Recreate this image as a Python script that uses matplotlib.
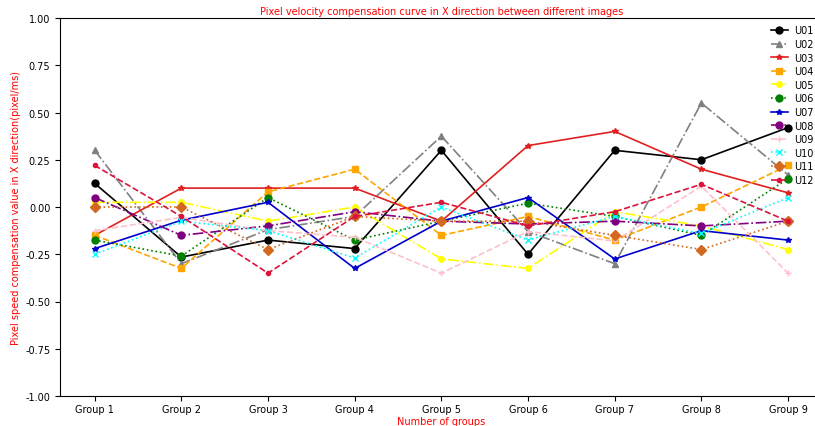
import matplotlib
matplotlib.use("Agg")
import matplotlib.pyplot as plt

groups = ["Group 1", "Group 2", "Group 3", "Group 4", "Group 5",
          "Group 6", "Group 7", "Group 8", "Group 9"]

U01 = [0.125, -0.265, -0.175, -0.22, 0.30, -0.25, 0.30, 0.25, 0.42]
U02 = [0.30, -0.30, -0.12, -0.05, 0.375, -0.13, -0.30, 0.55, 0.17]
U03 = [-0.15, 0.10, 0.10, 0.10, -0.075, 0.325, 0.40, 0.20, 0.075]
U04 = [-0.15, -0.325, 0.08, 0.20, -0.15, -0.05, -0.175, 0.0, 0.22]
U05 = [0.025, 0.025, -0.075, 0.0, -0.275, -0.325, -0.025, -0.10, -0.225]
U06 = [-0.175, -0.26, 0.05, -0.175, -0.075, 0.02, -0.05, -0.15, 0.15]
U07 = [-0.22, -0.07, 0.025, -0.325, -0.075, 0.05, -0.275, -0.125, -0.175]
U08 = [0.05, -0.15, -0.10, -0.025, -0.075, -0.09, -0.075, -0.10, -0.075]
U09 = [-0.125, -0.055, -0.125, -0.16, -0.35, -0.13, -0.18, 0.11, -0.35]
U10 = [-0.25, -0.075, -0.125, -0.27, 0.0, -0.175, -0.05, -0.14, 0.05]
U11 = [0.0, 0.0, -0.225, -0.05, -0.075, -0.075, -0.15, -0.225, -0.075]
U12 = [0.22, -0.05, -0.35, -0.05, 0.025, -0.10, -0.025, 0.12, -0.075]

series = [
    ("U01", U01, "black", "-", "o", 5),
    ("U02", U02, "gray", "-.", "^", 5),
    ("U03", U03, "#e02020", "-", "*", 4),
    ("U04", U04, "orange", "--", "s", 5),
    ("U05", U05, "yellow", "-.", "o", 4),
    ("U06", U06, "green", ":", "o", 5),
    ("U07", U07, "mediumblue", "-", "*", 4),
    ("U08", U08, "purple", "-.", "o", 5),
    ("U09", U09, "pink", "--", "+", 5),
    ("U10", U10, "cyan", ":", "x", 5),
    ("U11", U11, "chocolate", ":", "D", 5),
    ("U12", U12, "crimson", "--", ".", 6),
]

fig = plt.figure(figsize=(8.15, 4.27), dpi=100)
ax = fig.add_axes([60 / 815, (427 - 397) / 427, (822.7 - 60) / 815, (397 - 19) / 427])
ax.spines["right"].set_visible(False)

x = list(range(len(groups)))
for name, vals, color, ls, mk, ms in series:
    ax.plot(x, vals, color=color, linestyle=ls, marker=mk, markersize=ms,
            linewidth=1.2, label=name)

yt = [-1.0, -0.75, -0.5, -0.25, 0.0, 0.25, 0.5, 0.75, 1.0]
ax.set_xticks(x)
ax.set_xticklabels(groups)
ax.set_ylim(-1.0, 1.0)
ax.set_yticks(yt)
ax.set_yticklabels(["%.2f" % v for v in yt])
ax.tick_params(labelsize=7)
ax.tick_params(axis="x", pad=2.5)
ax.set_title("Pixel velocity compensation curve in X direction between different images",
             color="red", fontsize=7, pad=3)
ax.set_xlabel("Number of groups", color="red", fontsize=7, labelpad=1)
ax.set_ylabel("Pixel speed compensation value in X direction(pixel/ms)", color="red",
              fontsize=7, labelpad=3)
ax.legend(loc="upper left", fontsize=7, frameon=False, borderaxespad=0, borderpad=0,
          bbox_to_anchor=((771 - 60) / 762.7, (397 - 26.5) / 378),
          handlelength=1.7, handletextpad=0.7, labelspacing=0.37)

fig.savefig("out.png", dpi=100)
